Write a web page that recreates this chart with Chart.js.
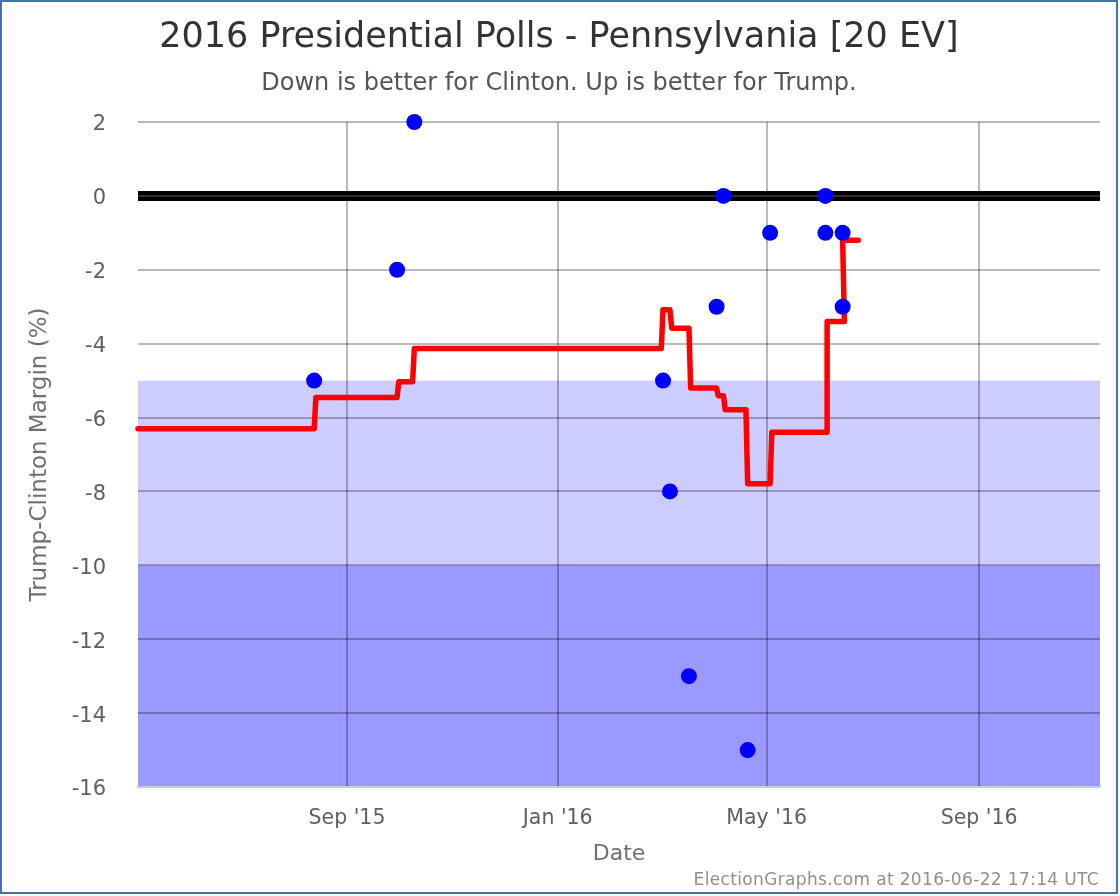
<!DOCTYPE html>
<html>
<head>
<meta charset="utf-8">
<script src="https://cdn.jsdelivr.net/npm/chart.js@4"></script>
<style>
  html, body { margin: 0; padding: 0; background: #fff; }
  #wrap { position: relative; width: 1118px; height: 894px; }
  canvas { display: block; outline: 2px solid #4572a7; outline-offset: -2px; }
  #credit { position: absolute; right: 19px; bottom: 5px; font: 17px "DejaVu Sans", sans-serif; color: #909090; letter-spacing: 0.35px; }
</style>
</head>
<body>
<div id="wrap">
  <canvas id="chart" width="1118" height="894"></canvas>
  <div id="credit">ElectionGraphs.com at 2016-06-22 17:14 UTC</div>
</div>
<script>
// polls
const pollDates = ['2015-08-13', '2015-09-30', '2015-10-10', '2016-03-02', '2016-03-06', '2016-03-17', '2016-04-02',
  '2016-04-06', '2016-04-20', '2016-05-03', '2016-06-04', '2016-06-04', '2016-06-14', '2016-06-14'];
const pollMargins = [-5, -2, 2, -5, -8, -13, -3, 0, -15, -1, -1, 0, -1, -3];

// poll average (the last two dates really do run backwards a little)
const avgDates = ['2015-05-03', '2015-08-13', '2015-08-14', '2015-09-30', '2015-10-01', '2015-10-09', '2015-10-10',
  '2016-03-01', '2016-03-02', '2016-03-06', '2016-03-07', '2016-03-17', '2016-03-18', '2016-04-02', '2016-04-03',
  '2016-04-06', '2016-04-07', '2016-04-19', '2016-04-20', '2016-05-03', '2016-05-04', '2016-06-05', '2016-06-05',
  '2016-06-15', '2016-06-14', '2016-06-23'];
const avgMargins = [-6.3, -6.3, -5.46, -5.46, -5.03, -5.03, -4.13,
  -4.13, -3.08, -3.08, -3.58, -3.58, -5.2, -5.2, -5.41,
  -5.41, -5.79, -5.79, -7.79, -7.79, -6.4, -6.4, -3.4,
  -3.4, -1.2, -1.2];

const xTickDates = ['2015-09-01', '2016-01-01', '2016-05-01', '2016-09-01'];
const xTickLabels = ["Sep '15", "Jan '16", "May '16", "Sep '16"];
const xRange = ['2015-05-03', '2016-11-10'];

// shaded margin bands
const bandEdges = [-5, -10, -16];
const bandColors = ['#ccccff', '#9999ff'];

const toDay = (s) => Date.parse(s) / 86400000;
const zip = (dates, vals) => dates.map((d, i) => ({ x: toDay(d), y: vals[i] }));

const bandsPlugin = {
  id: 'bands',
  beforeDraw(chart) {
    const { ctx, chartArea, scales } = chart;
    bandColors.forEach((color, i) => {
      const top = scales.y.getPixelForValue(bandEdges[i]);
      const bottom = scales.y.getPixelForValue(bandEdges[i + 1]);
      ctx.fillStyle = color;
      ctx.fillRect(chartArea.left, top, chartArea.right - chartArea.left, bottom - top);
    });
  }
};

const FONT = '"DejaVu Sans", sans-serif';
const GRID = 'rgba(0,0,0,0.27)';

new Chart(document.getElementById('chart'), {
  type: 'scatter',
  plugins: [bandsPlugin],
  data: {
    datasets: [
      {
        label: 'Polls',
        data: zip(pollDates, pollMargins),
        backgroundColor: '#0000ff',
        borderWidth: 0,
        pointRadius: 8,
        clip: false,
        order: 0
      },
      {
        label: 'Average',
        data: zip(avgDates, avgMargins),
        showLine: true,
        borderColor: '#ff0000',
        borderWidth: 5.5,
        borderCapStyle: 'round',
        borderJoinStyle: 'round',
        pointRadius: 0,
        clip: false,
        order: 1
      },
      {
        // the thin lighter stripe in the middle of the zero line
        label: 'Zero',
        data: zip(xRange, [0, 0]),
        showLine: true,
        borderColor: '#303030',
        borderWidth: 2,
        pointRadius: 0,
        order: 2
      }
    ]
  },
  options: {
    responsive: false,
    animation: false,
    devicePixelRatio: 1,
    // equal side padding keeps the titles centred on the canvas
    layout: { padding: { left: 18, right: 18, top: 0, bottom: 0 } },
    plugins: {
      legend: { display: false },
      tooltip: { enabled: false },
      title: {
        display: true,
        text: '2016 Presidential Polls - Pennsylvania [20 EV]',
        color: '#333333',
        font: { family: FONT, size: 35, weight: 'normal' },
        padding: { top: 17, bottom: 0 }
      },
      subtitle: {
        display: true,
        text: 'Down is better for Clinton. Up is better for Trump.',
        color: '#555555',
        font: { family: FONT, size: 24, weight: 'normal' },
        padding: { top: 10, bottom: 24.2 }
      }
    },
    scales: {
      x: {
        type: 'linear',
        min: toDay(xRange[0]),
        max: toDay(xRange[1]),
        afterFit(scale) { scale.height = 107; },
        afterBuildTicks(scale) { scale.ticks = xTickDates.map((d) => ({ value: toDay(d) })); },
        border: { color: '#c0d0e0', width: 2 },
        grid: { color: GRID, lineWidth: 2, drawTicks: false },
        ticks: {
          callback: (v, i) => xTickLabels[i],
          autoSkip: false,
          maxRotation: 0,
          padding: 19,
          color: '#606060',
          font: { family: FONT, size: 20.5 }
        },
        title: {
          display: true,
          text: 'Date',
          color: '#707070',
          font: { family: FONT, size: 22 },
          padding: { top: 0, bottom: 27 }
        }
      },
      y: {
        min: -16,
        max: 2,
        afterFit(scale) { scale.width = 120; },
        border: { display: false },
        grid: {
          color: (c) => (c.tick.value === 0 ? '#000000' : GRID),
          lineWidth: (c) => (c.tick.value === 0 ? 10 : 2),
          drawTicks: false
        },
        ticks: {
          stepSize: 2,
          padding: 32,
          labelOffset: 3,
          color: '#606060',
          font: { family: FONT, size: 21 }
        },
        title: {
          display: true,
          text: 'Trump-Clinton Margin (%)',
          color: '#707070',
          font: { family: FONT, size: 23 },
          padding: { top: 8, bottom: 0 }
        }
      }
    }
  }
});
</script>
</body>
</html>
